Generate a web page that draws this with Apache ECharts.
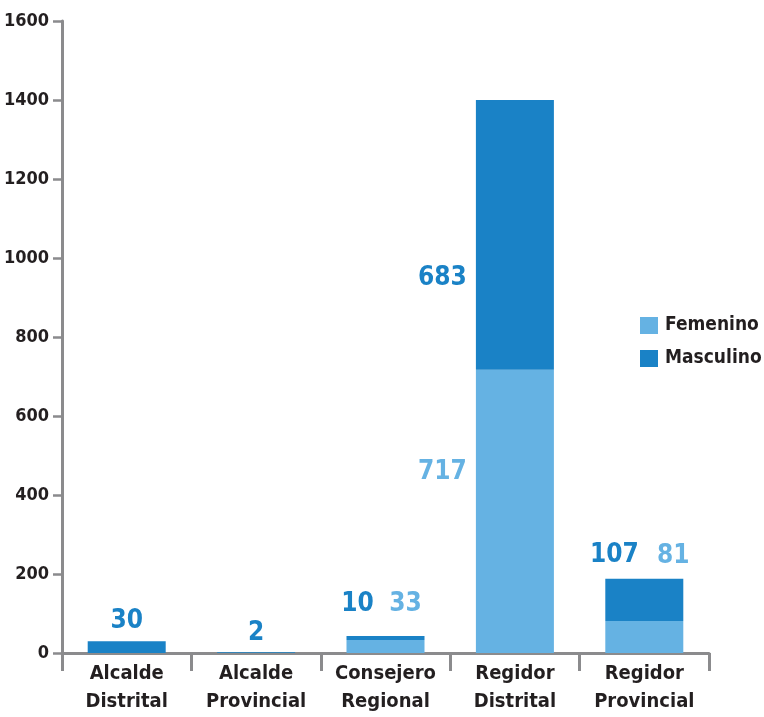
<!DOCTYPE html>
<html>
<head>
<meta charset="utf-8">
<script src="https://cdn.jsdelivr.net/npm/echarts@6/dist/echarts.min.js"></script>
<style>
html,body{margin:0;padding:0;background:#fff;}
#chart{width:764px;height:717px;}
</style>
</head>
<body>
<div id="chart"></div>
<script>
// ---- data ----
const categories = ['Alcalde\nDistrital', 'Alcalde\nProvincial', 'Consejero\nRegional', 'Regidor\nDistrital', 'Regidor\nProvincial'];
const femenino = [0, 0, 33, 717, 81];
const masculino = [30, 2, 10, 683, 107];
const yMin = 0, yMax = 1600, yInterval = 200;
const seriesNames = ['Femenino', 'Masculino'];

// ---- styles ----
const FONT = "'DejaVu Sans Condensed', 'Liberation Sans Narrow', sans-serif";
const LIGHT = '#65b2e3';
const DARK = '#1a82c6';
const AXIS = '#8b8b8d';
const TEXT = '#231f20';

const mascLabelPos = [
  { position: 'top', offset: [0, -2] },
  { position: 'top', offset: [0, -1] },
  { position: 'top', offset: [-28, -14] },
  { position: 'left', distance: 9, offset: [0, 43] },
  { position: 'top', offset: [-30, -5] }
];
const femLabelPos = [
  null,
  null,
  { position: 'top', offset: [20, -18] },
  { position: 'left', distance: 9, offset: [0, -39] },
  { position: 'top', offset: [29, -47] }
];

function buildData(values, posArr, color) {
  return values.map((v, i) => {
    const p = posArr[i];
    if (!p || v === 0) return { value: v, label: { show: false } };
    return {
      value: v,
      label: Object.assign({
        show: true,
        color: color,
        fontFamily: FONT,
        fontWeight: 'bold',
        fontSize: 26
      }, p)
    };
  });
}

const chart = echarts.init(document.getElementById('chart'), null, { renderer: 'canvas' });
chart.setOption({
  animation: false,
  backgroundColor: '#fff',
  grid: { left: 62, right: 55, top: 21, bottom: 64, containLabel: false, outerBoundsMode: 'none' },
  legend: {
    orient: 'vertical',
    left: 640,
    top: 316,
    padding: 0,
    itemWidth: 18,
    itemHeight: 17,
    itemGap: 14,
    icon: 'rect',
    data: seriesNames,
    textStyle: { fontFamily: FONT, fontWeight: 'bold', fontSize: 19, color: TEXT, padding: [0, 0, 0, 2] }
  },
  xAxis: {
    type: 'category',
    data: categories,
    boundaryGap: true,
    axisLine: { lineStyle: { color: AXIS, width: 3 } },
    axisTick: { show: true, alignWithLabel: false, length: 18, lineStyle: { color: AXIS, width: 3 } },
    axisLabel: {
      interval: 0,
      margin: 7,
      fontFamily: FONT,
      fontWeight: 'bold',
      fontSize: 20,
      lineHeight: 28,
      color: TEXT
    },
    splitLine: { show: false }
  },
  yAxis: {
    type: 'value',
    min: yMin,
    max: yMax,
    interval: yInterval,
    axisLine: { show: true, lineStyle: { color: AXIS, width: 3 } },
    axisTick: { show: true, length: 9, lineStyle: { color: AXIS, width: 2.5 } },
    axisLabel: {
      margin: 13,
      fontFamily: FONT,
      fontWeight: 'bold',
      fontSize: 18,
      color: TEXT,
      formatter: v => String(v)
    },
    splitLine: { show: false }
  },
  series: [
    {
      name: seriesNames[0],
      type: 'bar',
      stack: 'total',
      barWidth: 78,
      itemStyle: { color: LIGHT },
      data: buildData(femenino, femLabelPos, LIGHT)
    },
    {
      name: seriesNames[1],
      type: 'bar',
      stack: 'total',
      barWidth: 78,
      itemStyle: { color: DARK },
      data: buildData(masculino, mascLabelPos, DARK)
    }
  ]
});
</script>
</body>
</html>
